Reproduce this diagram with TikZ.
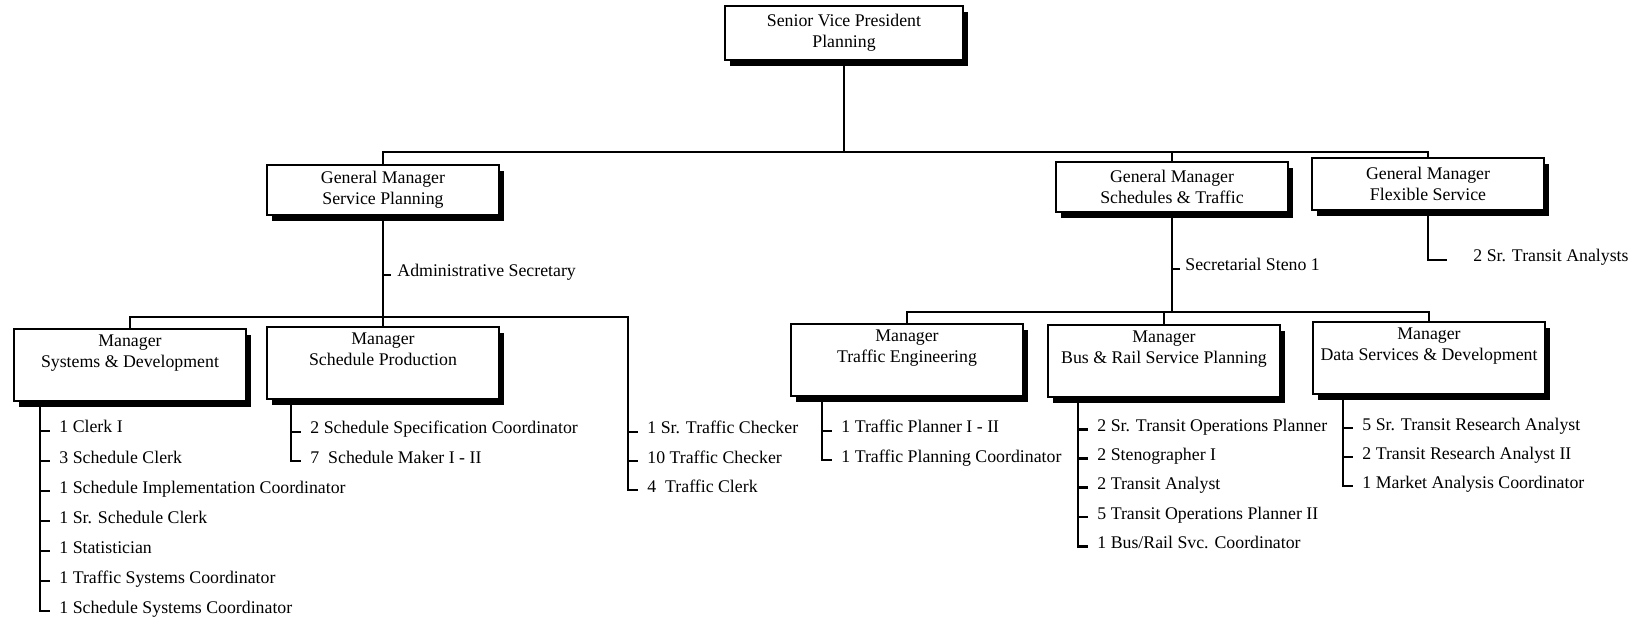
\documentclass[tikz,border=0pt]{standalone}
\usepackage{fontspec}
\setmainfont{Liberation Serif}
\usetikzlibrary{shadows}
\tikzset{
  every node/.style={font=\fontsize{8.9}{10.3}\selectfont},
  boxbase/.style={draw, line width=0.9pt, fill=white, inner sep=0pt,
    drop shadow={shadow xshift=2.6pt, shadow yshift=-2.8pt, fill=black, opacity=1}},
  gmbox/.style={boxbase, minimum width=116pt, minimum height=25pt, align=center},
  mgrbox/.style={boxbase, minimum width=116pt, minimum height=36pt},
  conn/.style={line width=1.3pt},
  item/.style={anchor=base west, inner sep=0pt},
}
\newcommand{\mgrtext}[2]{\parbox[c][33pt][t]{114pt}{\centering\strut #1\\#2}}
\begin{document}
\begin{tikzpicture}[x=0.5pt,y=-0.5pt]
\useasboundingbox (0,0) rectangle (1636,619);
\fill[white] (0,0) rectangle (1636,619);

% ---- boxes
\node[gmbox, minimum width=119pt, minimum height=27pt] (svp) at (844,33) {Senior Vice President\\Planning};
\node[gmbox] (gmsp) at (383,190) {General Manager\\Service Planning};
\node[gmbox] (gmst) at (1172,187) {General Manager\\Schedules \& Traffic};
\node[gmbox, minimum height=26pt] (gmfx) at (1428,184) {General Manager\\Flexible Service};

\node[mgrbox] (sd) at (130,365) {\mgrtext{Manager}{Systems \& Development}};
\node[mgrbox] (sp) at (383,363) {\mgrtext{Manager}{Schedule Production}};
\node[mgrbox] (te) at (907,360) {\mgrtext{Manager}{Traffic Engineering}};
\node[mgrbox] (br) at (1164,361) {\mgrtext{Manager}{Bus \& Rail Service Planning}};
\node[mgrbox] (ds) at (1429,358) {\mgrtext{Manager}{Data Services \& Development}};

% ---- top level connectors
\coordinate (topbar) at (0,152);
\draw[conn] (svp.south) -- (svp.south |- topbar);
\draw[conn] (gmsp.north) -- (gmsp.north |- topbar) -- (gmfx.north |- topbar) -- (gmfx.north);
\draw[conn] (gmst.north |- topbar) -- (gmst.north);

% ---- service planning branch
\coordinate (lbar) at (0,317);
\coordinate (tcx) at (628,317);
\draw[conn] (gmsp.south) -- (gmsp.south |- lbar);
\node[item] (adm) at (397,277) {Administrative Secretary};
\draw[conn] ([yshift=1pt]adm.base west) ++(-7pt,0) -- ++(4pt,0);
\draw[conn] (sp.north |- lbar) -- (sp.north);

% systems & development list
\coordinate (sdx) at (40,0);
\foreach \t [count=\i] in {1 Clerk I, 3 Schedule Clerk, 1 Schedule Implementation Coordinator,
  1 Sr. Schedule Clerk, 1 Statistician, 1 Traffic Systems Coordinator, 1 Schedule Systems Coordinator}
  \node[item] (sd\i) at (59,403+30*\i) {\t};
\foreach \i in {1,...,6} \draw[conn] ([yshift=1pt]sd\i.base west) ++(-9.5pt,0) -- ++(5pt,0);
\draw[conn] (sd.south -| sdx) |- ([xshift=-4.5pt,yshift=1pt]sd7.base west);

% schedule production list
\coordinate (spx) at (291,0);
\foreach \t [count=\i] in {2 Schedule Specification Coordinator, 7\ \ Schedule Maker I - II}
  \node[item] (sp\i) at (310,405+29*\i) {\t};
\draw[conn] ([yshift=1pt]sp1.base west) ++(-9.5pt,0) -- ++(5pt,0);
\draw[conn] (sp.south -| spx) |- ([xshift=-4.5pt,yshift=1pt]sp2.base west);

% traffic checker list
\foreach \t [count=\i] in {1 Sr. Traffic Checker, 10 Traffic Checker, 4\ \ Traffic Clerk}
  \node[item] (tc\i) at (647,405+29*\i) {\t};
\foreach \i in {1,2} \draw[conn] ([yshift=1pt]tc\i.base west) ++(-9.5pt,0) -- ++(5pt,0);
\draw[conn] (sd.north) -- (sd.north |- lbar) -- (tcx) |- ([xshift=-4.5pt,yshift=1pt]tc3.base west);

% ---- schedules & traffic branch
\coordinate (rbar) at (0,312);
\draw[conn] (gmst.south) -- (gmst.south |- rbar);
\node[item] (sec) at (1185,271) {Secretarial Steno 1};
\draw[conn] ([yshift=1pt]sec.base west) ++(-6.5pt,0) -- ++(4pt,0);
\draw[conn] (te.north) -- (te.north |- rbar) -- (ds.north |- rbar) -- (ds.north);
\draw[conn] (br.north |- rbar) -- (br.north);

% traffic engineering list
\coordinate (tex) at (822,0);
\foreach \t [count=\i] in {1 Traffic Planner I - II, 1 Traffic Planning Coordinator}
  \node[item] (te\i) at (841,404+29*\i) {\t};
\draw[conn] ([yshift=1pt]te1.base west) ++(-9.5pt,0) -- ++(5pt,0);
\draw[conn] (te.south -| tex) |- ([xshift=-4.5pt,yshift=1pt]te2.base west);

% bus & rail list
\coordinate (brx) at (1078,0);
\foreach \t [count=\i] in {2 Sr. Transit Operations Planner, 2 Stenographer I, 2 Transit Analyst,
  5 Transit Operations Planner II, 1 Bus/Rail Svc. Coordinator}
  \node[item] (br\i) at (1097,402+29.25*\i) {\t};
\foreach \i in {1,...,4} \draw[conn] ([yshift=1pt]br\i.base west) ++(-9.5pt,0) -- ++(5pt,0);
\draw[conn] (br.south -| brx) |- ([xshift=-4.5pt,yshift=1pt]br5.base west);

% data services list
\coordinate (dsx) at (1343,0);
\foreach \t [count=\i] in {5 Sr. Transit Research Analyst, 2 Transit Research Analyst II, 1 Market Analysis Coordinator}
  \node[item] (ds\i) at (1362,401+29*\i) {\t};
\foreach \i in {1,2} \draw[conn] ([yshift=1pt]ds\i.base west) ++(-9.5pt,0) -- ++(5pt,0);
\draw[conn] (ds.south -| dsx) |- ([xshift=-4.5pt,yshift=1pt]ds3.base west);

% ---- flexible service
\node[item] (sta) at (1473,262) {2 Sr. Transit Analysts};
\draw[conn] (gmfx.south) |- ([xshift=-13pt,yshift=1pt]sta.base west);
\end{tikzpicture}
\end{document}
